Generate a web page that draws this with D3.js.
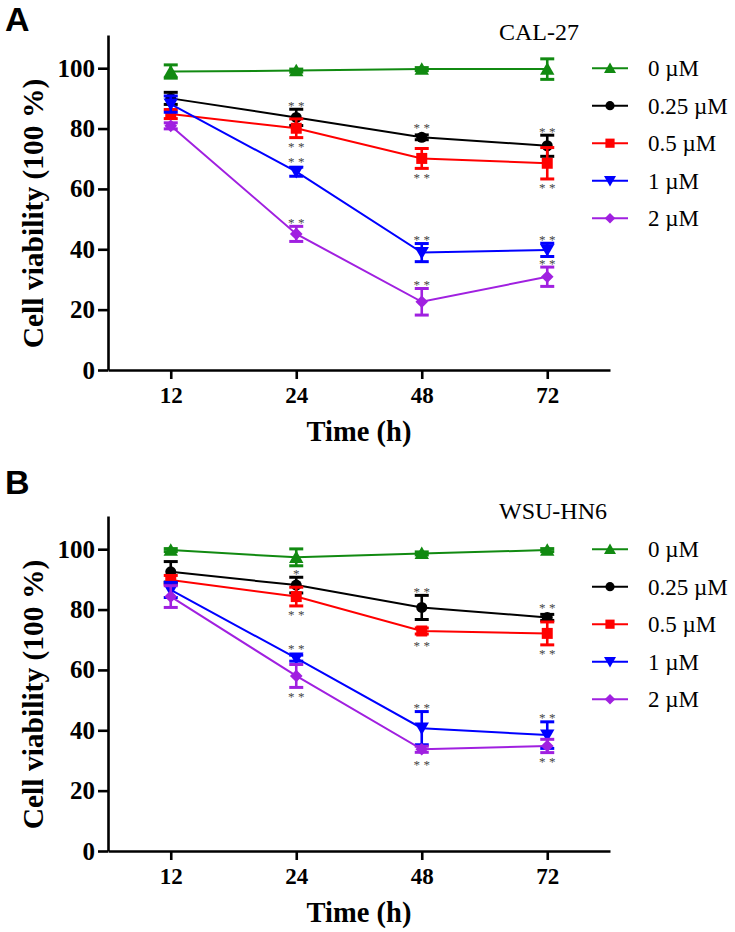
<!DOCTYPE html>
<html>
<head>
<meta charset="utf-8">
<script src="https://cdn.jsdelivr.net/npm/d3@7"></script>
<style>
  html, body { margin: 0; padding: 0; background: #fff; }
  svg { display: block; }
  .serif { font-family: "Liberation Serif", "Times New Roman", Times, serif; }
  .sans { font-family: "Liberation Sans", Arial, Helvetica, sans-serif; }
</style>
</head>
<body>
<svg id="chart" width="735" height="932"></svg>
<script>
// ---------------- DATA ----------------
const times = ["12", "24", "48", "72"];
const seriesNames = ["0 µM", "0.25 µM", "0.5 µM", "1 µM", "2 µM"];
const yTicks = [0, 20, 40, 60, 80, 100];

// Panel A: CAL-27
const calMeans = [
  [98.9, 99.2, 99.7, 99.7],
  [90.0, 83.7, 77.1, 74.3],
  [84.8, 80.1, 70.1, 68.5],
  [88.1, 65.7, 38.9, 39.8],
  [80.9, 45.1, 22.6, 30.9]
];
const calErrors = [
  [2.2, 0.5, 0.5, 3.4],
  [2.0, 2.7, 0.8, 3.5],
  [1.5, 3.1, 3.3, 5.2],
  [2.7, 1.5, 3.0, 2.2],
  [1.0, 2.5, 4.4, 3.2]
];
const calStars = [
  ["24", 1, "above", "**"], ["24", 2, "below", "**"], ["24", 3, "above", "**"], ["24", 4, "above", "**"],
  ["48", 1, "above", "**"], ["48", 2, "below", "**"], ["48", 3, "above", "**"], ["48", 4, "above", "**"],
  ["72", 1, "above", "**"], ["72", 2, "below", "**"], ["72", 3, "above", "**"], ["72", 4, "above", "**"]
];

// Panel B: WSU-HN6
const wsuMeans = [
  [99.7, 97.3, 98.6, 99.7],
  [92.5, 88.1, 80.7, 77.4],
  [89.8, 84.3, 72.9, 72.1],
  [86.5, 63.9, 40.7, 38.4],
  [84.3, 58.0, 33.7, 34.8]
];
const wsuErrors = [
  [0.5, 2.8, 0.5, 0.5],
  [3.4, 2.6, 4.0, 1.0],
  [1.5, 3.1, 1.0, 3.8],
  [2.5, 1.0, 5.5, 4.4],
  [3.6, 3.8, 1.0, 2.2]
];
const wsuStars = [
  ["24", 1, "above", "*"], ["24", 2, "below", "**"], ["24", 3, "above", "**"], ["24", 4, "below", "**"],
  ["48", 1, "above", "**"], ["48", 2, "below", "**"], ["48", 3, "above", "**"], ["48", 4, "below", "**"],
  ["72", 1, "above", "**"], ["72", 2, "below", "**"], ["72", 3, "above", "**"], ["72", 4, "below", "**"]
];

// ---------------- STYLE ----------------
const colors = ["#118a11", "#000000", "#ff0000", "#0000ff", "#a020e0"];

const shapeFor = [
  { type: d3.symbolTriangle, size: 90, rot: 0, dy: 1.5 },
  { type: d3.symbolCircle, size: 95, rot: 0, dy: 0 },
  { type: d3.symbolSquare, size: 121, rot: 0, dy: 0 },
  { type: d3.symbolTriangle, size: 90, rot: 180, dy: -1.5 },
  { type: d3.symbolSquare, size: 80, rot: 45, dy: 0 }
];

const svg = d3.select("#chart");

const panels = [
  { letter: "A", letterY: 31, title: "CAL-27", titleY: 40, top: 35, bottom: 370,
    means: calMeans, errors: calErrors, stars: calStars },
  { letter: "B", letterY: 494, title: "WSU-HN6", titleY: 519, top: 516, bottom: 851,
    means: wsuMeans, errors: wsuErrors, stars: wsuStars }
];

const xLeft = 108, xRight = 610;

panels.forEach(p => {
  const g = svg.append("g");
  const y = d3.scaleLinear().domain([0, 111]).range([p.bottom, p.top]);
  const x = d3.scalePoint().domain(times).range([xLeft, xRight]).padding(0.5);

  // panel letter
  g.append("text").attr("class", "sans").attr("x", 5).attr("y", p.letterY)
    .style("font-weight", "bold").style("font-size", "34px")
    .text(p.letter);

  // title
  g.append("text").attr("class", "serif").attr("x", 499).attr("y", p.titleY)
    .style("font-size", "24px")
    .text(p.title);

  // Y axis
  const ya = g.append("g").attr("transform", `translate(${xLeft},0)`)
    .call(d3.axisLeft(y).tickValues(yTicks).tickSize(10).tickSizeOuter(0).tickPadding(3));
  ya.attr("font-family", null).attr("font-size", null);
  ya.select(".domain").attr("stroke", "#000").attr("stroke-width", 2.6);
  ya.selectAll(".tick line").attr("stroke", "#000").attr("stroke-width", 2.6);
  ya.selectAll(".tick text").attr("class", "serif")
    .style("font-weight", "bold").style("font-size", "25px").attr("fill", "#000");

  // X axis
  const xa = g.append("g").attr("transform", `translate(0,${p.bottom})`)
    .call(d3.axisBottom(x).tickSize(9).tickSizeOuter(0).tickPadding(8));
  xa.attr("font-family", null).attr("font-size", null);
  xa.select(".domain").attr("stroke", "#000").attr("stroke-width", 2.6);
  xa.selectAll(".tick line").attr("stroke", "#000").attr("stroke-width", 2.6);
  xa.selectAll(".tick text").attr("class", "serif")
    .style("font-weight", "bold").style("font-size", "23px").attr("fill", "#000");

  // axis titles
  g.append("text").attr("class", "serif")
    .attr("transform", `translate(43,${(p.top + p.bottom) / 2 + 11}) rotate(-90)`)
    .attr("text-anchor", "middle")
    .style("font-weight", "bold").style("font-size", "29.5px")
    .text("Cell viability (100 %)");
  g.append("text").attr("class", "serif")
    .attr("x", (xLeft + xRight) / 2).attr("y", p.bottom + 71)
    .attr("text-anchor", "middle")
    .style("font-weight", "bold").style("font-size", "28.5px")
    .text("Time (h)");

  // series
  p.means.forEach((vals, si) => {
    const col = colors[si];
    const pts = times.map((t, i) => ({ t, v: vals[i], e: p.errors[si][i] }));
    const sg = g.append("g");
    sg.append("path").datum(pts)
      .attr("fill", "none").attr("stroke", col).attr("stroke-width", 2)
      .attr("d", d3.line().x(d => x(d.t)).y(d => y(d.v)));
    pts.forEach(d => {
      const cx = x(d.t);
      sg.append("line").attr("x1", cx).attr("x2", cx)
        .attr("y1", y(d.v + d.e)).attr("y2", y(d.v - d.e))
        .attr("stroke", col).attr("stroke-width", 2.6);
      [d.v + d.e, d.v - d.e].forEach(ev => {
        sg.append("line").attr("x1", cx - 7).attr("x2", cx + 7)
          .attr("y1", y(ev)).attr("y2", y(ev))
          .attr("stroke", col).attr("stroke-width", 3);
      });
    });
    const sh = shapeFor[si];
    sg.selectAll("path.mk").data(pts).join("path").attr("class", "mk")
      .attr("d", d3.symbol().type(sh.type).size(sh.size))
      .attr("transform", d => `translate(${x(d.t)},${y(d.v) + sh.dy}) rotate(${sh.rot})`)
      .attr("fill", col);
  });

  // significance stars
  p.stars.forEach(([t, si, pos, txt]) => {
    const v = p.means[si][times.indexOf(t)];
    const e = p.errors[si][times.indexOf(t)];
    const cx = x(t);
    let cy;
    if (pos === "above") {
      const edge = Math.min(y(v + e), y(v) - 6);
      cy = edge - 5.5;
    } else {
      const edge = Math.max(y(v - e), y(v) + 6);
      cy = edge + 7.5;
    }
    g.append("text").attr("class", "serif").attr("x", cx + 1.75).attr("y", cy + 6)
      .attr("text-anchor", "middle")
      .style("font-size", "13px").style("letter-spacing", "3.5px").attr("fill", "#444")
      .text(txt);
  });

  // legend
  const legTop = y(100);
  seriesNames.forEach((name, si) => {
    const ly = legTop + si * 37.5;
    const lg = g.append("g");
    lg.append("line").attr("x1", 592).attr("x2", 628).attr("y1", ly).attr("y2", ly)
      .attr("stroke", colors[si]).attr("stroke-width", 2);
    const sh = shapeFor[si];
    lg.append("path")
      .attr("d", d3.symbol().type(sh.type).size(sh.size * 0.7)())
      .attr("transform", `translate(610,${ly + sh.dy * 0.8}) rotate(${sh.rot})`)
      .attr("fill", colors[si]);
    lg.append("text").attr("class", "serif").attr("x", 648).attr("y", ly + 8)
      .style("font-size", "23px").attr("fill", "#000")
      .text(name);
  });
});
</script>
</body>
</html>
